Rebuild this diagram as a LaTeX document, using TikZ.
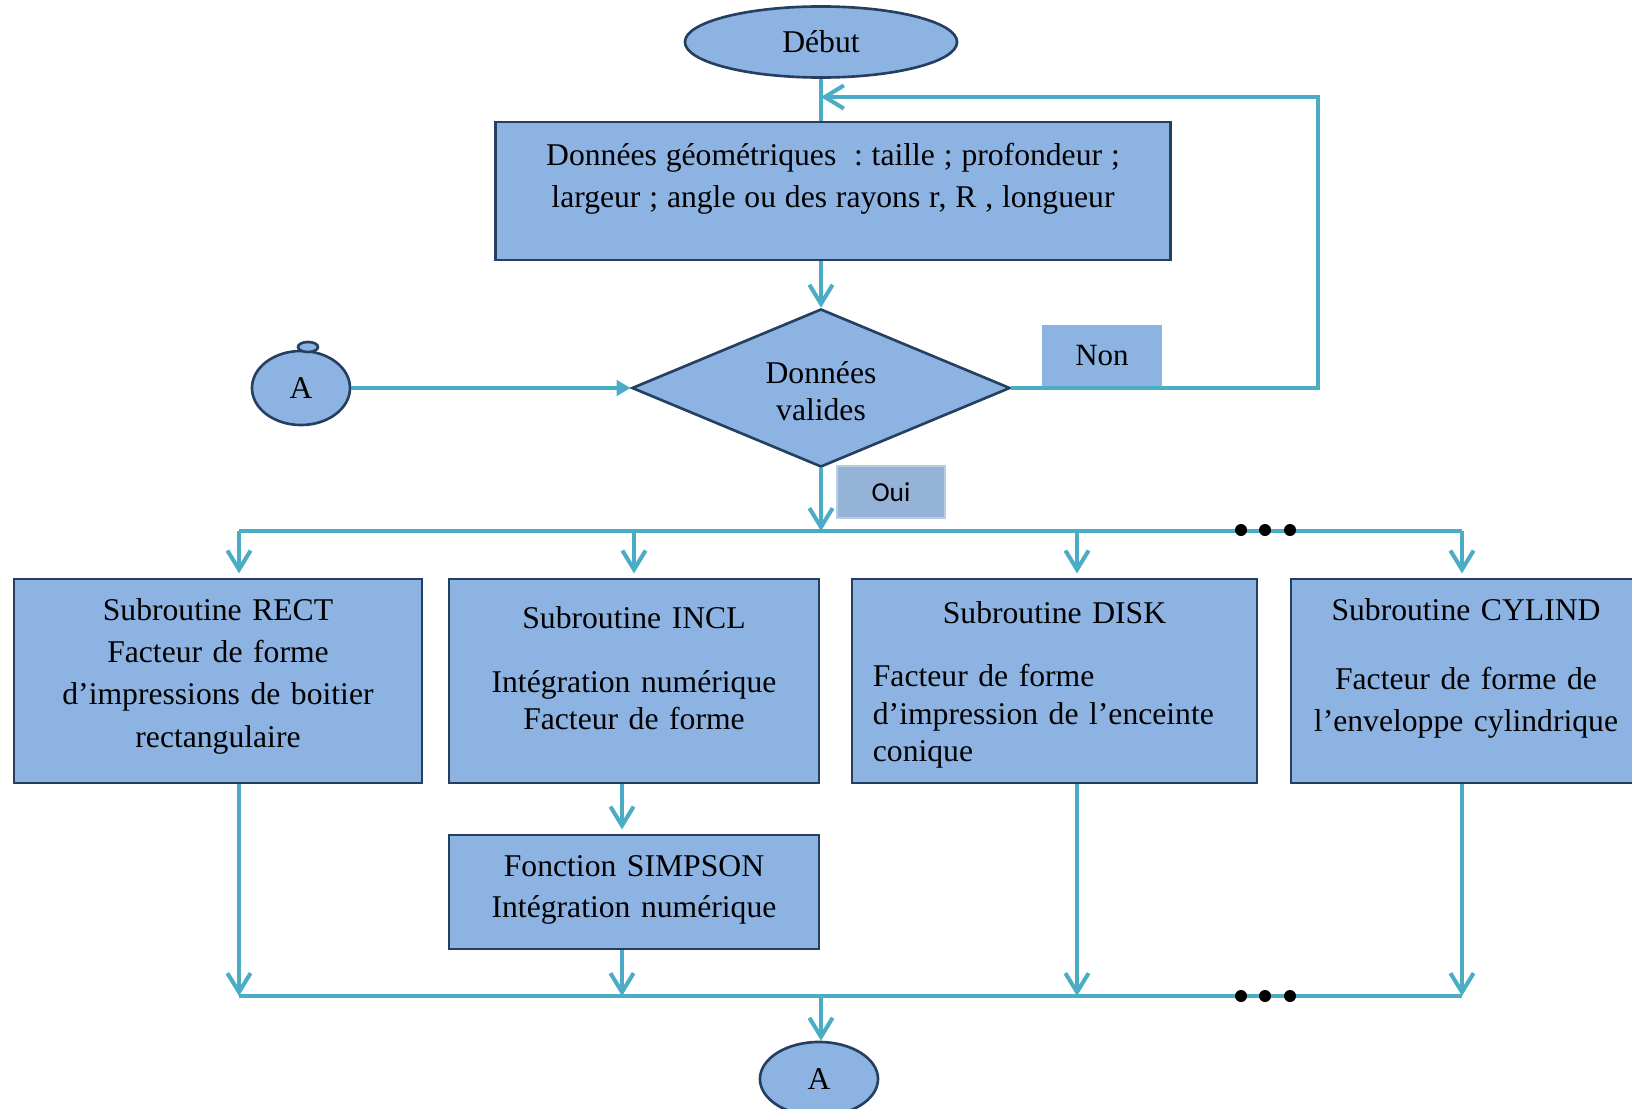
\documentclass[tikz,border=0pt]{standalone}
\usepackage{fontspec}
\setmainfont{Liberation Serif}
\newfontfamily\ouifont{Carlito}
\usetikzlibrary{shapes.geometric,arrows.meta,positioning,calc}
\frenchspacing

\definecolor{boxfill}{HTML}{8DB3E2}
\definecolor{boxline}{HTML}{243F60}
\definecolor{flowline}{HTML}{4BACC6}
\definecolor{ouifill}{HTML}{95B3D7}
\definecolor{ouiline}{HTML}{B9CDE5}

\begin{document}
\begin{tikzpicture}[x=0.01cm, y=-0.01cm,
    box/.style={draw=boxline, fill=boxfill, line width=0.75pt, inner sep=0pt, align=center, font=\fontsize{9}{12}\selectfont},
    term/.style={box, ellipse},
    subbox/.style={box, minimum height=2.04cm},
    flow/.style={draw=flowline, line width=1.15pt},
    arrow/.style={flow, -{Straight Barb[length=5.4pt, width=6.6pt]}}
]
    \clip (0,0) rectangle (1632,1109);

    % noeuds principaux
    \node[term, minimum width=2.72cm, minimum height=0.71cm] (debut) at (821,42) {Début};
    \node[box, minimum width=6.74cm, minimum height=1.38cm, text width=6.6cm] (data) at (833,191)
        {\spaceskip=0.28em Données géométriques~ : taille ; profondeur ;\\largeur ; angle ou des rayons r, R , longueur\par\kern6.8pt};
    \node[box, diamond, aspect=2.39, minimum width=3.78cm, minimum height=1.58cm, text width=1.6cm, font=\fontsize{9}{10.5}\selectfont] (valid) at (821,388) {Données\\valides\par\kern-2pt};
    \node[fill=boxfill, minimum width=1.2cm, minimum height=0.61cm, font=\fontsize{8.8}{10}\selectfont] (non) at (1102,356) {Non};
    \node[fill=ouifill, draw=ouiline, line width=0.8pt, minimum width=1.08cm, minimum height=0.52cm, font=\ouifont\fontsize{7.8}{9}\selectfont] (oui) at (891,492) {Oui};

    % connecteur A
    \node[term, minimum width=0.98cm, minimum height=0.74cm] (conA) at (301,388) {A};
    \draw[draw=boxline, fill=boxfill, line width=0.75pt] (308,347) ellipse [x radius=0.1cm, y radius=0.05cm];
    \node[term, minimum width=1.18cm, minimum height=0.74cm] (conB) at (819,1079) {A};

    % sous-programmes
    \node[subbox, minimum width=4.08cm, text width=4.0cm] (rect) at (218,681)
        {Subroutine RECT\\Facteur de forme\\d’impressions de boitier\\rectangulaire\par\kern2.7pt};
    \node[subbox, minimum width=3.70cm, text width=3.6cm] (incl) at (634,681)
        {Subroutine INCL\\[7.5pt]\fontsize{9}{10.6}\selectfont Intégration numérique\\Facteur de forme\par\kern7.4pt};
    \node[subbox, minimum width=4.05cm, text width=3.63cm, align=left, font=\fontsize{9}{10.7}\selectfont] (disk) at (1054.5,681)
        {\makebox[\linewidth]{Subroutine DISK}\\[7.2pt]Facteur de forme\\d’impression de l’enceinte\\conique\par\kern-2.4pt};
    \node[subbox, minimum width=3.50cm, text width=3.45cm] (cyl) at (1466,681)
        {Subroutine CYLIND\\[7.6pt]Facteur de forme de\\l’enveloppe cylindrique\par\kern7pt};
    \node[box, minimum width=3.70cm, minimum height=1.14cm, text width=3.6cm, font=\fontsize{9}{11.5}\selectfont] (simpson) at (634,892)
        {Fonction SIMPSON\\Intégration numérique\par\kern1.2pt};

    % bus
    \coordinate (t1) at (239,531);
    \coordinate (t2) at (634,531);
    \coordinate (t3) at (1077,531);
    \coordinate (t4) at (1462,531);
    \coordinate (b1) at (239,996);
    \coordinate (b2) at (622,996);
    \coordinate (b3) at (1077,996);
    \coordinate (b4) at (1462,996);
    \coordinate (loop) at (1318,97);

    \draw[flow] (debut.south) -- (debut.south |- data.north);
    \draw[arrow] (valid.north |- data.south) -- (valid.north);
    % retour si donnees non valides
    \draw[arrow] (valid.east) -| (loop) -- (debut.south |- loop);
    \draw[flow, -{Triangle[length=4pt, width=4.4pt]}] (conA.east) -- (valid.west);
    \draw[arrow] (valid.south) -- (valid.south |- t1);

    \draw[flow] (t1) -- (t4);
    \foreach \c/\n in {t1/rect, t2/incl, t3/disk, t4/cyl}
        \draw[arrow] (\c) -- ([yshift=1.2pt]\c |- \n.north);

    \draw[arrow] (incl.south -| b2) -- ([yshift=1.2pt]simpson.north -| b2);
    \draw[arrow] (rect.south -| b1) -- (b1);
    \draw[arrow] (simpson.south -| b2) -- (b2);
    \draw[arrow] (disk.south -| b3) -- (b3);
    \draw[arrow] (cyl.south -| b4) -- (b4);
    \draw[flow] (b1) -- (b4);
    \draw[arrow] (valid.south |- b1) -- (valid.south |- conB.north);

    % points de suspension
    \foreach \x in {1241,1265,1290} {
        \fill (\x,530) circle[radius=0.06cm];
        \fill (\x,996) circle[radius=0.06cm];
    }
\end{tikzpicture}
\end{document}
